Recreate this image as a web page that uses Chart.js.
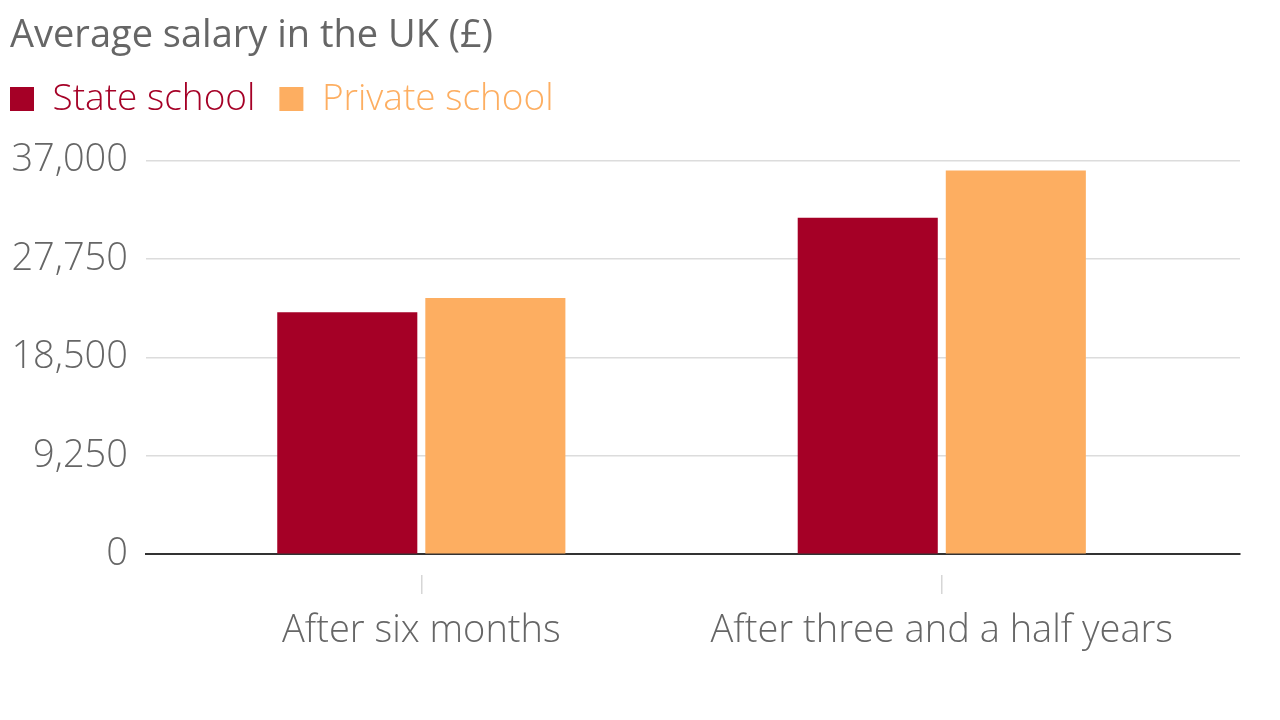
<!DOCTYPE html>
<html>
<head>
<meta charset="utf-8">
<script src="https://cdn.jsdelivr.net/npm/chart.js@4.4.1/dist/chart.umd.min.js"></script>
<style>
html,body{margin:0;padding:0;background:#fff;}
#wrap{width:1280px;height:720px;position:relative;}
</style>
</head>
<body>
<div id="wrap"><canvas id="c" width="1280" height="720"></canvas></div>
<script>
const titleText = 'Average salary in the UK (£)';
const categories = ['After six months', 'After three and a half years'];
const seriesNames = ['State school', 'Private school'];
const stateValues = [22750, 31620];
const privateValues = [24100, 36060];
const yTicks = [0, 9250, 18500, 27750, 37000];
const seriesColors = ['#A50026', '#FDAE61'];

const toPoints = vals => vals.map((v, i) => ({x: i, y: v}));

const shiftBlocks = {
  id: 'shiftBlocks',
  afterLayout(chart) {
    if (chart.titleBlock) { chart.titleBlock.left = 10; chart.titleBlock.top -= 27; }
    if (chart.legend) { chart.legend.left = -14; chart.legend.top -= 33; }
  }
};

new Chart(document.getElementById('c'), {
  type: 'bar',
  data: {
    datasets: [
      {label: seriesNames[0], data: toPoints(stateValues), backgroundColor: seriesColors[0]},
      {label: seriesNames[1], data: toPoints(privateValues), backgroundColor: seriesColors[1]}
    ]
  },
  plugins: [shiftBlocks],
  options: {
    responsive: false,
    animation: false,
    devicePixelRatio: 1,
    layout: {padding: {left: 0, right: 40, top: 26, bottom: 52}},
    datasets: {bar: {categoryPercentage: 0.569, barPercentage: 0.946}},
    plugins: {
      tooltip: {enabled: false},
      title: {
        display: true, text: titleText, align: 'start', color: '#666',
        font: {family: 'Open Sans', size: 38, weight: '400'},
        padding: {top: 14, bottom: 4}
      },
      legend: {
        display: true, align: 'start',
        labels: {
          boxWidth: 24, boxHeight: 24, padding: 24,
          font: {family: 'Open Sans', size: 37, weight: '300'},
          generateLabels: chart => chart.data.datasets.map((ds, i) => ({
            text: ds.label, fillStyle: ds.backgroundColor, strokeStyle: ds.backgroundColor,
            lineWidth: 0, fontColor: ds.backgroundColor, datasetIndex: i, hidden: false
          }))
        }
      }
    },
    scales: {
      x: {
        type: 'linear', min: -0.529, max: 1.573, offset: false,
        afterBuildTicks: s => { s.ticks = categories.map((c, i) => ({value: i})); },
        ticks: {
          callback: v => categories[v],
          color: '#666', padding: 14, maxRotation: 0, autoSkip: false,
          font: {family: 'Open Sans', size: 38, weight: '300'}
        },
        grid: {offset: false, drawOnChartArea: false, color: '#d6d6d6', lineWidth: 1.5, tickLength: 40, tickBorderDash: [0, 20, 19, 200]},
        border: {display: true, color: '#333', width: 2}
      },
      y: {
        min: 0, max: 37000,
        afterBuildTicks: s => { s.ticks = yTicks.map(v => ({value: v})); },
        afterFit: s => { s.width = 146; },
        ticks: {
          callback: v => v.toLocaleString('en-US'),
          color: '#666', padding: 18,
          font: {family: 'Open Sans', size: 38, weight: '300'}
        },
        grid: {
          drawTicks: false,
          color: c => c.tick && c.tick.value === 0 ? '#333' : '#dcdcdc',
          lineWidth: c => c.tick && c.tick.value === 0 ? 2 : 1.5
        },
        border: {display: false}
      }
    }
  }
});
</script>
</body>
</html>
